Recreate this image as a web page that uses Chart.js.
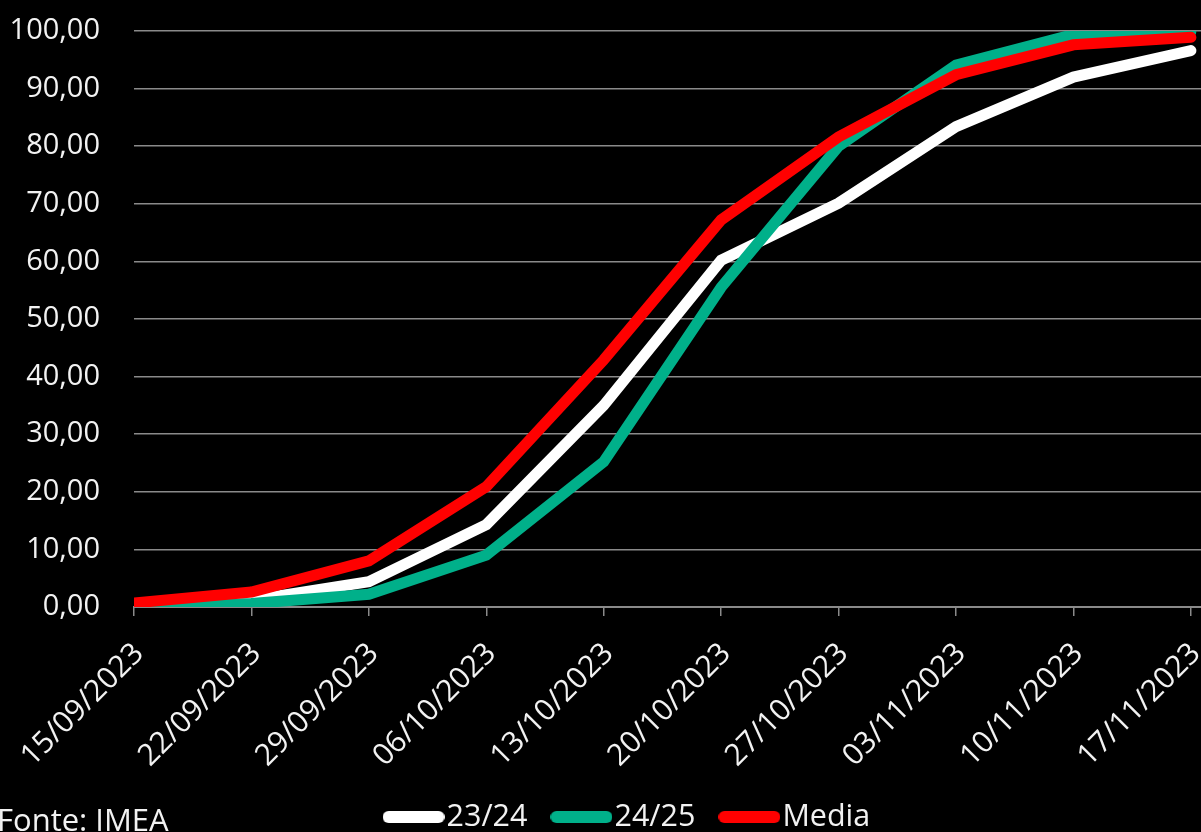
<!DOCTYPE html>
<html>
<head>
<meta charset="utf-8">
<script src="https://cdn.jsdelivr.net/npm/chart.js@4"></script>
<style>
  html, body { margin: 0; padding: 0; background: #000; overflow: hidden; }
  #wrap { position: relative; width: 1201px; height: 832px; overflow: hidden; }
  #c { position: absolute; left: 0; top: 0; }
  #fonte { position: absolute; left: -3px; top: 798px; font-family: "Open Sans", sans-serif; font-size: 31px; line-height: 42px; color: #f2f2f2; white-space: nowrap; }
</style>
</head>
<body>
<div id="wrap">
  <canvas id="c" width="1212" height="832"></canvas>
  <div id="fonte">Fonte: IMEA</div>
</div>
<script>
const categories = ["15/09/2023","22/09/2023","29/09/2023","06/10/2023","13/10/2023","20/10/2023","27/10/2023","03/11/2023","10/11/2023","17/11/2023"];
const serie2324 = [0.0, 1.2, 4.4, 14.3, 35.0, 60.2, 70.1, 83.4, 92.0, 96.6];
const serie2425 = [0.0, 0.6, 2.2, 9.0, 25.2, 55.5, 80.0, 94.1, 99.4, 99.9];
const serieMedia = [0.7, 2.6, 8.0, 20.9, 42.9, 67.2, 81.6, 92.4, 97.6, 98.9];
const seriesNames = ["23/24", "24/25", "Media"];
const seriesColors = ["#ffffff", "#00b08a", "#ff0000"];
const yTickValues = [0, 10, 20, 30, 40, 50, 60, 70, 80, 90, 100];

const FONT = "'Open Sans', sans-serif";
const toPoints = (arr) => arr.map((v, i) => ({ x: i, y: v }));

// legend swatch: thick rounded bar
function makeBar(color) {
  const c = document.createElement('canvas');
  c.width = 62; c.height = 14;
  const g = c.getContext('2d');
  g.strokeStyle = color; g.lineWidth = 12; g.lineCap = 'round';
  g.beginPath(); g.moveTo(6, 7); g.lineTo(56, 7); g.stroke();
  return c;
}

const LEG_PAD = 36.25;
const LEG_FONT = 30.5;

const legendShift = {
  id: 'legendShift',
  afterLayout(chart) {
    const l = chart.legend;
    if (!l) return;
    const dx = 27;
    const newTop = 817 - LEG_PAD - LEG_FONT / 2;
    const h = l.height;
    l.left += dx; l.right += dx;
    l.top = newTop; l.bottom = newTop + h;
  }
};

new Chart(document.getElementById('c'), {
  type: 'line',
  data: {
    datasets: [
      { label: seriesNames[0], data: toPoints(serie2324), borderColor: seriesColors[0], backgroundColor: seriesColors[0], order: 3 },
      { label: seriesNames[1], data: toPoints(serie2425), borderColor: seriesColors[1], backgroundColor: seriesColors[1], order: 2 },
      { label: seriesNames[2], data: toPoints(serieMedia), borderColor: seriesColors[2], backgroundColor: seriesColors[2], order: 1 }
    ]
  },
  options: {
    responsive: false,
    animation: false,
    devicePixelRatio: 1,
    layout: { padding: { top: 31, right: 0, left: 0, bottom: -12.75 } },
    elements: {
      line: { borderWidth: 11, tension: 0, borderCapStyle: 'round', borderJoinStyle: 'miter' },
      point: { radius: 0, hoverRadius: 0 }
    },
    scales: {
      x: {
        type: 'linear',
        min: 0,
        max: 9.18,
        grid: { drawOnChartArea: false, drawTicks: true, tickLength: 9, color: '#8a8a8a', lineWidth: 1.5 },
        border: { display: true, color: '#8a8a8a', width: 2 },
        ticks: {
          stepSize: 1, includeBounds: false, autoSkip: false, labelOffset: 5,
          color: '#f2f2f2', font: { family: FONT, size: 30 }, minRotation: 45, maxRotation: 45, padding: 20,
          callback: (v) => categories[v] !== undefined ? categories[v] : ''
        },
        afterFit(scale) { scale.height = 161; scale.paddingLeft = 0; scale.paddingRight = 0; }
      },
      y: {
        min: 0, max: 100,
        grid: { color: '#8a8a8a', lineWidth: 1.5, drawTicks: false },
        border: { display: false },
        afterBuildTicks(scale) { scale.ticks = yTickValues.map(v => ({ value: v })); },
        ticks: {
          color: '#f2f2f2', font: { family: FONT, size: 29 }, padding: 34,
          callback: (v) => v.toFixed(2).replace('.', ',')
        },
        afterFit(scale) { scale.width = 134; scale.paddingTop = 0; scale.paddingBottom = 0; }
      }
    },
    plugins: {
      tooltip: { enabled: false },
      legend: {
        position: 'bottom',
        align: 'center',
        labels: {
          usePointStyle: true,
          pointStyleWidth: 35.5,
          padding: LEG_PAD,
          color: '#f2f2f2',
          font: { family: FONT, size: LEG_FONT },
          generateLabels(chart) {
            return chart.data.datasets.map((ds, i) => ({
              text: ds.label,
              strokeStyle: ds.borderColor,
              fillStyle: ds.borderColor,
              lineWidth: 0,
              pointStyle: makeBar(ds.borderColor),
              fontColor: '#f2f2f2',
              hidden: false,
              datasetIndex: i
            }));
          }
        }
      }
    }
  },
  plugins: [legendShift]
});
</script>
</body>
</html>
